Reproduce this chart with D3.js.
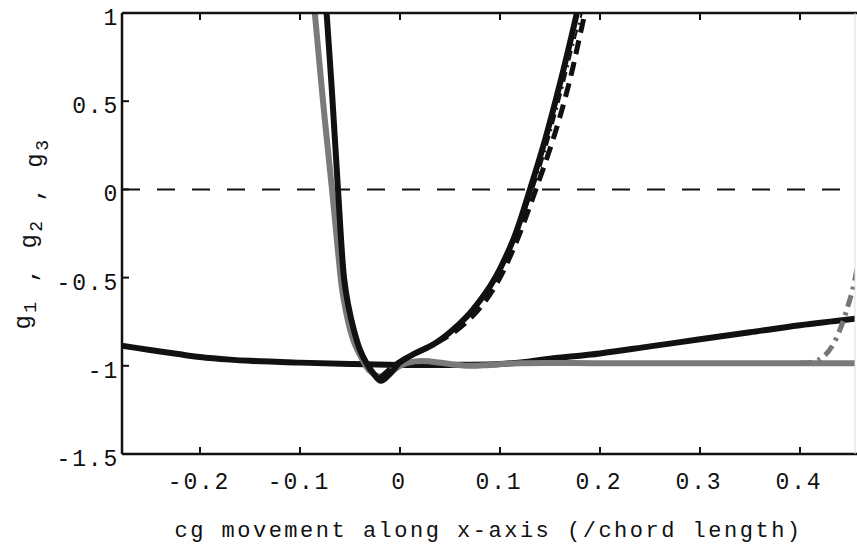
<!DOCTYPE html>
<html>
<head>
<meta charset="utf-8">
<script src="https://cdn.jsdelivr.net/npm/d3@7"></script>
<style>
  body { margin: 0; background: #fff; }
  svg { display: block; }
  text { font-family: "Liberation Mono", "Courier New", monospace; fill: #111; }
</style>
</head>
<body>
<div id="chart"></div>
<script>
// tick values / labels
const xTicks = [-0.2, -0.1, 0, 0.1, 0.2, 0.3, 0.4];
const xTickLabels = ['-0.2', '-0.1', '0', '0.1', '0.2', '0.3', '0.4'];
const yTicks = [1, 0.5, 0, -0.5, -1, -1.5];
const yTickLabels = ['1', '0.5', '0', '-0.5', '-1', '-1.5'];

// g1: black V curve
const g1X = [-0.074, -0.068, -0.062, -0.056, -0.052, -0.046, -0.040, -0.034, -0.027, -0.019, -0.010, 0.000, 0.015, 0.033, 0.050, 0.067, 0.080, 0.090, 0.100, 0.115, 0.130, 0.145, 0.160, 0.172, 0.180];
const g1Y = [1.05, 0.55, 0.0, -0.5, -0.65, -0.8, -0.91, -0.98, -1.04, -1.085, -1.045, -0.98, -0.93, -0.88, -0.81, -0.72, -0.63, -0.55, -0.45, -0.26, 0.0, 0.28, 0.6, 0.88, 1.08];

// g2: grey curve
const g2X = [-0.086, -0.077, -0.068, -0.062, -0.057, -0.047, -0.038, -0.030, -0.020, -0.010, 0.000, 0.015, 0.030, 0.050, 0.070, 0.090, 0.120, 0.200, 0.300, 0.400, 0.460];
const g2Y = [1.05, 0.5, 0.0, -0.35, -0.6, -0.85, -0.96, -1.03, -1.06, -1.04, -1.0, -0.975, -0.975, -0.99, -1.0, -0.995, -0.985, -0.985, -0.985, -0.985, -0.985];

// g3: black slow curve
const g3X = [-0.28, -0.25, -0.22, -0.2, -0.17, -0.15, -0.1, -0.05, 0.0, 0.05, 0.1, 0.13, 0.15, 0.2, 0.25, 0.3, 0.35, 0.4, 0.46];
const g3Y = [-0.885, -0.91, -0.935, -0.95, -0.965, -0.972, -0.982, -0.99, -0.995, -0.995, -0.99, -0.975, -0.96, -0.93, -0.89, -0.85, -0.81, -0.77, -0.73];

// dashed black along the right arm
const d1X = [-0.02, -0.004, 0.012, 0.033, 0.054, 0.074, 0.094, 0.114, 0.134, 0.154, 0.169, 0.181, 0.188];
const d1Y = [-1.07, -0.99, -0.94, -0.88, -0.81, -0.71, -0.56, -0.33, -0.03, 0.3, 0.6, 0.9, 1.08];

// thin dash-dot black along the right arm
const d2X = [0.10, 0.12, 0.14, 0.16, 0.176, 0.186];
const d2Y = [-0.45, -0.2, 0.12, 0.52, 0.88, 1.08];

// grey dash-dot rising at the right edge
const d3X = [0.40, 0.415, 0.425, 0.433, 0.441, 0.448, 0.453, 0.458];
const d3Y = [-0.985, -0.975, -0.94, -0.88, -0.78, -0.66, -0.56, -0.42];

const W = 857, H = 546;
const plotLeft = 122, plotRight = 855, plotTop = 13, plotBottom = 454;

const svg = d3.select('#chart').append('svg')
    .attr('width', W)
    .attr('height', H);

const x = d3.scaleLinear().domain([-0.278, 0.455]).range([plotLeft, plotRight]);
const y = d3.scaleLinear().domain([-1.5, 1]).range([plotBottom, plotTop]);

svg.append('clipPath').attr('id', 'plot-clip')
    .append('rect')
    .attr('x', plotLeft).attr('y', plotTop)
    .attr('width', plotRight - plotLeft).attr('height', plotBottom - plotTop);

const plot = svg.append('g').attr('clip-path', 'url(#plot-clip)');

// zero reference line
plot.append('line')
    .attr('x1', plotLeft).attr('x2', plotRight)
    .attr('y1', y(0)).attr('y2', y(0))
    .attr('stroke', '#111')
    .attr('stroke-width', 2)
    .attr('stroke-dasharray', '18,17');

const line = d3.line()
    .x(d => x(d[0]))
    .y(d => y(d[1]))
    .curve(d3.curveCatmullRom.alpha(0.5));

function drawCurve(xs, ys, color, width, dash) {
    plot.append('path')
        .datum(d3.zip(xs, ys))
        .attr('d', line)
        .attr('fill', 'none')
        .attr('stroke', color)
        .attr('stroke-width', width)
        .attr('stroke-linejoin', 'round')
        .attr('stroke-dasharray', dash || null);
}

drawCurve(g3X, g3Y, '#111', 6);
drawCurve(g2X, g2Y, '#7a7a7a', 6);
drawCurve(g1X, g1Y, '#111', 6);
drawCurve(d1X, d1Y, '#111', 5, '14,8');
drawCurve(d2X, d2Y, '#111', 2, '10,5,2,5');
drawCurve(d3X, d3Y, '#777', 5, '12,6,3,6');

// axes box
const axisColor = '#111';
svg.append('line').attr('x1', plotLeft).attr('x2', plotLeft).attr('y1', plotTop).attr('y2', plotBottom)
    .attr('stroke', axisColor).attr('stroke-width', 2.5);
svg.append('line').attr('x1', plotLeft).attr('x2', W).attr('y1', plotBottom).attr('y2', plotBottom)
    .attr('stroke', axisColor).attr('stroke-width', 2.5);
svg.append('line').attr('x1', plotLeft).attr('x2', W).attr('y1', plotTop).attr('y2', plotTop)
    .attr('stroke', axisColor).attr('stroke-width', 2.5);
svg.append('line').attr('x1', plotRight).attr('x2', plotRight).attr('y1', plotTop).attr('y2', plotBottom)
    .attr('stroke', '#ddd').attr('stroke-width', 1);

// ticks (inward, all sides)
const tickLen = 7;
xTicks.forEach(v => {
    svg.append('line').attr('x1', x(v)).attr('x2', x(v))
        .attr('y1', plotBottom).attr('y2', plotBottom - tickLen)
        .attr('stroke', axisColor).attr('stroke-width', 2);
    svg.append('line').attr('x1', x(v)).attr('x2', x(v))
        .attr('y1', plotTop).attr('y2', plotTop + tickLen)
        .attr('stroke', axisColor).attr('stroke-width', 2);
});
yTicks.forEach(v => {
    svg.append('line').attr('x1', plotLeft).attr('x2', plotLeft + tickLen)
        .attr('y1', y(v)).attr('y2', y(v))
        .attr('stroke', axisColor).attr('stroke-width', 2);
});

// tick labels
svg.append('g').selectAll('text')
    .data(xTicks)
    .enter().append('text')
    .attr('x', d => x(d) - 1)
    .attr('y', 489)
    .attr('text-anchor', 'middle')
    .style('font-size', '23px')
    .style('letter-spacing', '1.8px')
    .text((d, i) => xTickLabels[i]);

svg.append('g').selectAll('text')
    .data(yTicks)
    .enter().append('text')
    .attr('x', 119)
    .attr('y', d => y(d) + 12)
    .attr('text-anchor', 'end')
    .style('font-size', '23px')
    .style('letter-spacing', '1.8px')
    .text((d, i) => yTickLabels[i]);

// axis labels
svg.append('text')
    .attr('x', (plotLeft + plotRight) / 2)
    .attr('y', 537)
    .attr('text-anchor', 'middle')
    .style('font-size', '22px')
    .style('letter-spacing', '2.5px')
    .text('cg movement along x-axis (/chord length)');

const yLabel = svg.append('text')
    .attr('transform', `translate(30,${(plotTop + plotBottom) / 2}) rotate(-90)`)
    .attr('text-anchor', 'middle')
    .style('font-size', '24px')
    .style('letter-spacing', '2.5px');
[['g', '1'], [' , g', '2'], [' , g', '3']].forEach(([main, sub]) => {
    yLabel.append('tspan').text(main);
    yLabel.append('tspan').attr('dy', 6).style('font-size', '18px').text(sub);
    yLabel.append('tspan').attr('dy', -6).text('');
});
</script>
</body>
</html>
